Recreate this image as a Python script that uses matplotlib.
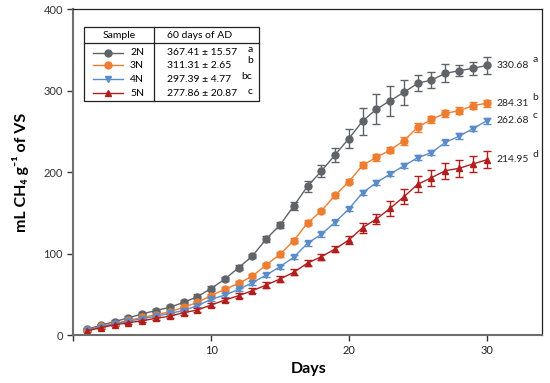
import numpy as np
import matplotlib
matplotlib.use("Agg")
import matplotlib.pyplot as plt
from matplotlib.patches import Rectangle

plt.rcParams["font.family"] = ["Lato", "DejaVu Sans"]

days = np.arange(1, 31)

gray_mean = [7, 12, 16.5, 21, 26, 30, 34, 40, 47, 57, 68.7, 82.6, 96.9, 117.8, 135,
             158.3, 182.5, 201, 221, 241, 262.5, 277, 287.5, 297.8, 308.8, 312.9, 321, 324.3, 327.2, 330.68]
gray_err = [1, 1.5, 1.5, 2, 2, 2, 2.5, 2.5, 3, 3, 3, 3, 3, 4, 4,
            5, 7, 7.5, 9, 12, 16.5, 18.6, 18.6, 15.7, 10, 10, 11, 7, 8, 11]
orange_mean = [6, 10.5, 14, 18, 21.5, 25, 28.5, 34, 40, 48.3, 56, 63.4, 72.4, 85.9, 99,
               115.7, 137.5, 152.1, 171.4, 188.1, 208.2, 218, 227, 238.4, 254.8, 264.6, 272, 275.2, 281.4, 284.31]
orange_err = [1, 1, 1.5, 1.5, 1.5, 2, 2, 2, 2, 2.5, 2.5, 2.5, 3, 3, 3,
              3, 3, 3, 3, 3, 3.5, 4, 4, 5, 5.5, 4.5, 4, 4, 4, 4]
blue_mean = [6, 10, 13.5, 17, 20, 23, 26.5, 30, 36, 43.8, 49, 56, 64.2, 73.6, 83.8,
             95.3, 112.5, 123.5, 138.3, 154.6, 174.6, 186.9, 197.5, 207.6, 217.6, 223.7, 236.4, 243.8, 253.2, 262.68]
blue_err = [1, 1, 1, 1.5, 1.5, 1.5, 2, 2, 2, 2, 2, 2, 2.5, 2.5, 2.5,
            2.5, 3, 3, 3, 3, 3, 3, 3, 3, 3, 3, 3, 3.5, 3.5, 3.5]
red_mean = [5, 9, 12.5, 15, 17.5, 20.5, 23, 27.4, 30.7, 36.8, 42.9, 48.3, 54.4, 61.3, 68.7,
            76.9, 88.3, 96, 105.5, 116.6, 131.7, 142.3, 155.4, 169.7, 184.9, 193, 201.6, 204.5, 209.8, 214.95]
red_err = [1, 1.5, 1.5, 2, 2, 2, 2.5, 3, 3, 3, 3, 3, 3, 3.5, 3.5,
           3.5, 4, 4, 4, 4.5, 6, 6.7, 9, 9, 10, 10, 10, 10.6, 10, 10.6]

samples = ["2N", "3N", "4N", "5N"]
ad60 = ["367.41 ± 15.57", "311.31 ± 2.65", "297.39 ± 4.77", "277.86 ± 20.87"]
ad60_letters = ["a", "b", "bc", "c"]
end_labels = ["330.68", "284.31", "262.68", "214.95"]
end_letters = ["a", "b", "c", "d"]

means = [gray_mean, orange_mean, blue_mean, red_mean]
errs = [gray_err, orange_err, blue_err, red_err]
colors = ["#606368", "#ed7d31", "#5b8bc8", "#b01e1e"]
markers = ["o", "o", "v", "^"]

fig = plt.figure(figsize=(5.5, 3.83), dpi=100)
ax = fig.add_axes([0.1333, 0.1253, 0.8516, 0.8512])

for m, e, c, mk in zip(means, errs, colors, markers):
    ax.errorbar(days, m, yerr=e, color=c, marker=mk, ms=5, lw=1, elinewidth=1,
                capsize=3.2, capthick=1)

for m, lab, let in zip(means, end_labels, end_letters):
    ax.annotate(lab, (days[-1], m[-1]), xytext=(7, 0), textcoords="offset points",
                va="center", ha="left", fontsize=7.5, color="#222222")
    ax.annotate(let, (days[-1], m[-1]), xytext=(33, 4), textcoords="offset points",
                va="center", ha="left", fontsize=7.5, color="#222222")

ax.set_xlim(0, 34)
ax.set_ylim(0, 400)
ax.set_xticks([0, 10, 20, 30])
ax.set_xticklabels(["", "10", "20", "30"])
ax.set_yticks([0, 100, 200, 300, 400])
ax.tick_params(labelsize=8, colors="#333333", length=4, width=1, direction="out")
ax.tick_params(axis="x", labelcolor="#222222")
for s in ["left", "bottom"]:
    ax.spines[s].set_color("#6e6e6e")
    ax.spines[s].set_linewidth(1.5)
for s in ["top", "right"]:
    ax.spines[s].set_color("#222222")
    ax.spines[s].set_linewidth(0.9)

fig.text(0.038, 0.551, "mL CH₄ g⁻¹ of VS", rotation=90, ha="center", va="center",
         fontsize=11.5, fontweight="bold")
fig.text(0.562, 0.037, "Days", ha="center", va="center", fontsize=11.5, fontweight="bold")

# table-like legend
tr = ax.transAxes
ax.add_patch(Rectangle((0.0235, 0.719), 0.3735, 0.225, transform=tr, fill=False,
                       ec="#222222", lw=0.9))
ax.plot([0.1716, 0.1716], [0.719, 0.944], transform=tr, color="#222222", lw=0.9)
ax.plot([0.0235, 0.397], [0.897, 0.897], transform=tr, color="#222222", lw=0.9)
ax.text(0.0976, 0.920, "Sample", transform=tr, ha="center", va="center", fontsize=7.5)
ax.text(0.199, 0.920, "60 days of AD", transform=tr, ha="left", va="center", fontsize=7.5)
row_y = [0.866, 0.828, 0.784, 0.741]
let_y = [0.877, 0.841, 0.792, 0.748]
let_x = [0.372, 0.372, 0.359, 0.372]
for i in range(4):
    ax.plot([0.042, 0.106], [row_y[i], row_y[i]], transform=tr, color=colors[i], lw=1)
    ax.plot([0.074], [row_y[i]], transform=tr, color=colors[i], marker=markers[i], ms=5)
    ax.text(0.121, row_y[i], samples[i], transform=tr, ha="left", va="center", fontsize=7.5)
    ax.text(0.199, row_y[i], ad60[i], transform=tr, ha="left", va="center", fontsize=7.5)
    ax.text(let_x[i], let_y[i], ad60_letters[i], transform=tr, ha="left", va="center", fontsize=7.5)

fig.savefig("out.png", dpi=100)
